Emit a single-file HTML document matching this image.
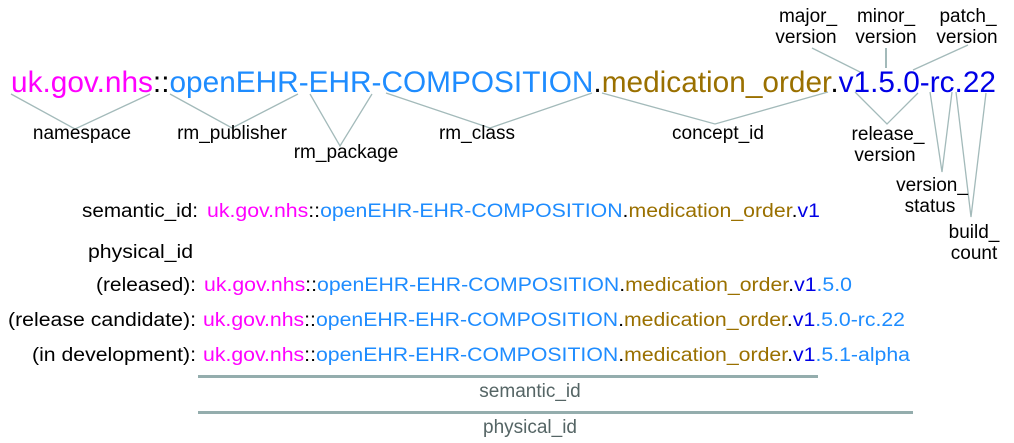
<!DOCTYPE html>
<html><head><meta charset="utf-8"><style>
html,body{margin:0;padding:0;background:#fff;}
svg{display:block;font-family:"Liberation Sans",Arial,sans-serif;}
.m{fill:#ff00ff}.b{fill:#1e8cff}.o{fill:#9a7000}.d{fill:#0000e6}.k{fill:#000}
.l{fill:#000}
</style></head><body>
<svg width="1014" height="443" viewBox="0 0 1014 443" xmlns="http://www.w3.org/2000/svg">
<g stroke="#a3baba" stroke-width="1.3" fill="none">
<polyline points="11,94 75,129 150,94"/>
<polyline points="170,94 232,128 298,94"/>
<polyline points="310,94 340,146 372,94"/>
<polyline points="386,93 490,128 592,93"/>
<polyline points="602,93 715,124 828,92"/>
<polyline points="855,92 887,124 918,93"/>
<line x1="812" y1="48" x2="860" y2="72"/>
<line x1="886" y1="48" x2="886" y2="68" stroke-width="2"/>
<line x1="968" y1="45" x2="913" y2="70"/>
<polyline points="930,92 942,172 952,92"/>
<polyline points="956,92 971,217 986,93"/>
</g>
<text x="11" y="92" font-size="30" textLength="985" lengthAdjust="spacingAndGlyphs"><tspan class="m">uk.gov.nhs</tspan><tspan class="k">::</tspan><tspan class="b">openEHR-EHR-COMPOSITION</tspan><tspan class="k">.</tspan><tspan class="o">medication_order</tspan><tspan class="k">.</tspan><tspan class="d">v1.5.0-rc.22</tspan></text>
<g class="l" text-anchor="middle" font-size="19">
<text x="82" y="139">namespace</text>
<text x="232" y="139">rm_publisher</text>
<text x="346" y="158">rm_package</text>
<text x="477" y="139">rm_class</text>
<text x="718" y="139">concept_id</text>
<text x="808" y="22">major_</text><text x="806" y="43">version</text>
<text x="886" y="22">minor_</text><text x="886" y="43">version</text>
<text x="968" y="22">patch_</text><text x="967" y="43">version</text>
<text x="888" y="140">release_</text><text x="885" y="161">version</text>
<text x="932" y="191">version_</text><text x="930" y="212">status</text>
<text x="974" y="238">build_</text><text x="974" y="259">count</text>
</g>
<g font-size="19">
<text class="l" x="82" y="217" textLength="116" lengthAdjust="spacingAndGlyphs">semantic_id:</text>
<text class="l" x="88" y="258" textLength="105" lengthAdjust="spacingAndGlyphs">physical_id</text>
<text class="l" x="96" y="291" textLength="100" lengthAdjust="spacingAndGlyphs">(released):</text>
<text class="l" x="8" y="326" textLength="188" lengthAdjust="spacingAndGlyphs">(release candidate):</text>
<text class="l" x="32" y="361" textLength="164" lengthAdjust="spacingAndGlyphs">(in development):</text>
<text x="207" y="217" textLength="613" lengthAdjust="spacingAndGlyphs"><tspan class="m">uk.gov.nhs</tspan><tspan class="k">::</tspan><tspan class="b">openEHR-EHR-COMPOSITION</tspan><tspan class="k">.</tspan><tspan class="o">medication_order</tspan><tspan class="k">.</tspan><tspan class="d">v1</tspan></text>
<text x="204" y="291" textLength="648" lengthAdjust="spacingAndGlyphs"><tspan class="m">uk.gov.nhs</tspan><tspan class="k">::</tspan><tspan class="b">openEHR-EHR-COMPOSITION</tspan><tspan class="k">.</tspan><tspan class="o">medication_order</tspan><tspan class="k">.</tspan><tspan class="d">v1</tspan><tspan class="b">.5.0</tspan></text>
<text x="203" y="326" textLength="702" lengthAdjust="spacingAndGlyphs"><tspan class="m">uk.gov.nhs</tspan><tspan class="k">::</tspan><tspan class="b">openEHR-EHR-COMPOSITION</tspan><tspan class="k">.</tspan><tspan class="o">medication_order</tspan><tspan class="k">.</tspan><tspan class="d">v1</tspan><tspan class="b">.5.0-rc.22</tspan></text>
<text x="203" y="361" textLength="707" lengthAdjust="spacingAndGlyphs"><tspan class="m">uk.gov.nhs</tspan><tspan class="k">::</tspan><tspan class="b">openEHR-EHR-COMPOSITION</tspan><tspan class="k">.</tspan><tspan class="o">medication_order</tspan><tspan class="k">.</tspan><tspan class="d">v1</tspan><tspan class="b">.5.1-alpha</tspan></text>
</g>
<rect x="198" y="375" width="620" height="3" fill="#94adad"/>
<rect x="198" y="411" width="715" height="3" fill="#94adad"/>
<text x="530" y="397" font-size="19" fill="#556565" text-anchor="middle">semantic_id</text>
<text x="530" y="433" font-size="19" fill="#556565" text-anchor="middle">physical_id</text>
</svg>
</body></html>
